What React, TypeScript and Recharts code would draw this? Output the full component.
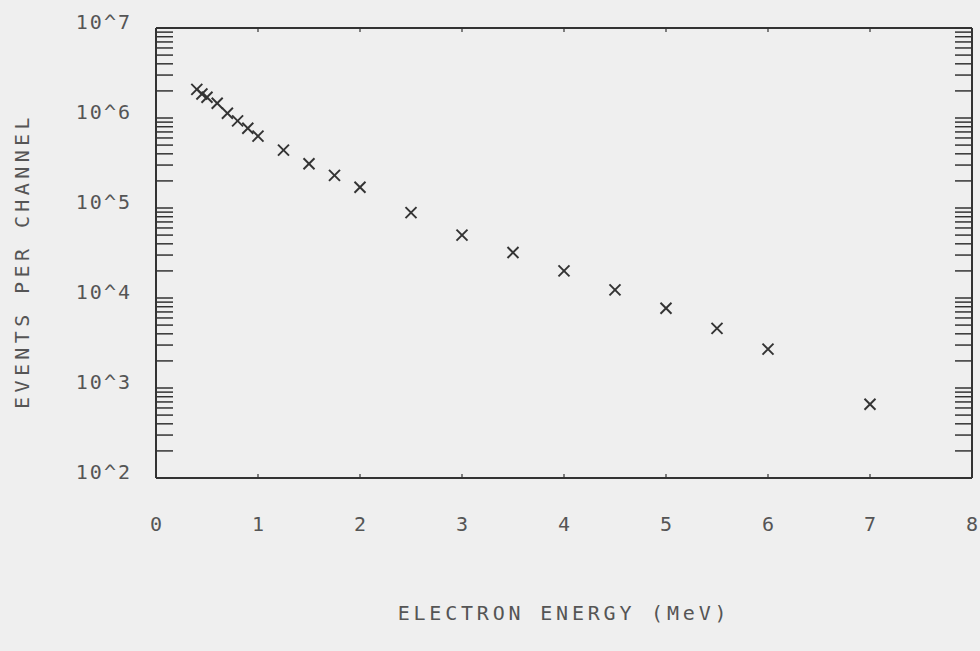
import { ScatterChart, Scatter, XAxis, YAxis } from "recharts";

// electron energy (MeV) and events per channel
const energy = [0.4, 0.45, 0.5, 0.6, 0.7, 0.8, 0.9, 1.0, 1.25, 1.5, 1.75, 2.0, 2.5, 3.0, 3.5, 4.0, 4.5, 5.0, 5.5, 6.0, 7.0];
const events = [
  2.08e6, 1.85e6, 1.7e6, 1.46e6, 1.13e6, 9.3e5, 7.7e5, 6.3e5, 4.4e5, 3.1e5, 2.3e5, 1.7e5,
  8.9e4, 5.0e4, 3.2e4, 2.0e4, 1.23e4, 7.7e3, 4.6e3, 2.7e3, 6.6e2,
];

const xTicks = [0, 1, 2, 3, 4, 5, 6, 7, 8];
const decades = [1e2, 1e3, 1e4, 1e5, 1e6, 1e7];
const decadeLabels = ["10^2", "10^3", "10^4", "10^5", "10^6", "10^7"];

// log minor ticks (2..9 in each decade) plus the decades themselves
const yTicks: number[] = [];
decades.forEach((d, i) => {
  yTicks.push(d);
  if (i < decades.length - 1) {
    for (let m = 2; m <= 9; m++) yTicks.push(d * m);
  }
});

const data = energy.map((e, i) => ({ e, n: events[i] }));

const INK = "#333";
const TEXT = "#555";
const FONT = "'DejaVu Sans Mono', monospace";
const TICK_LEN = 17;

const labelFor = (v: number) => {
  const i = decades.findIndex((d) => Math.abs(d - v) / d < 1e-6);
  return i >= 0 ? decadeLabels[i] : null;
};

const LeftTick = ({ x, y, payload }: any) => {
  const label = labelFor(payload.value);
  return (
    <g>
      <line x1={x} y1={y} x2={x + TICK_LEN} y2={y} stroke={INK} strokeWidth={1.5} />
      {label && (
        <text x={x - 24} y={y + 1} textAnchor="end" fontFamily={FONT} fontSize={20} letterSpacing={2} fill={TEXT}>
          {label}
        </text>
      )}
    </g>
  );
};

const RightTick = ({ x, y }: any) => (
  <line x1={x - TICK_LEN} y1={y} x2={x} y2={y} stroke={INK} strokeWidth={1.5} />
);

const BottomTick = ({ x, y, payload }: any) => (
  <g>
    <line x1={x} y1={y} x2={x} y2={y - 4} stroke={INK} strokeWidth={1.2} />
    <text x={x} y={y + 53} textAnchor="middle" fontFamily={FONT} fontSize={20} fill={TEXT}>
      {payload.value}
    </text>
  </g>
);

const TopTick = ({ x, y }: any) => (
  <line x1={x} y1={y} x2={x} y2={y + 4} stroke={INK} strokeWidth={1.2} />
);

const Cross = ({ cx, cy }: any) => {
  const r = 5.5;
  return (
    <g stroke="#333" strokeWidth={1.9}>
      <line x1={cx - r} y1={cy - r} x2={cx + r} y2={cy + r} />
      <line x1={cx - r} y1={cy + r} x2={cx + r} y2={cy - r} />
    </g>
  );
};

const Nothing = () => <g />;

const XTitle = ({ viewBox }: any) => (
  <text
    x={viewBox.x + viewBox.width / 2}
    y={viewBox.y + 142}
    textAnchor="middle"
    fontFamily={FONT}
    fontSize={20}
    letterSpacing={3.8}
    fill={TEXT}
  >
    ELECTRON ENERGY (MeV)
  </text>
);

const YTitle = ({ viewBox }: any) => {
  const cx = 29;
  const cy = viewBox.y + viewBox.height / 2 + 8;
  return (
    <text
      x={cx}
      y={cy}
      transform={`rotate(-90 ${cx} ${cy})`}
      textAnchor="middle"
      fontFamily={FONT}
      fontSize={20}
      letterSpacing={4.4}
      fill={TEXT}
    >
      EVENTS PER CHANNEL
    </text>
  );
};

export default function App() {
  return (
    <div style={{ position: "fixed", left: 0, top: 0, width: 980, height: 651, background: "#efefef" }}>
      <ScatterChart width={980} height={651} margin={{ top: 26, right: 0, bottom: 0, left: 0 }}>
        <XAxis
          xAxisId="b"
          dataKey="e"
          type="number"
          domain={[0, 8]}
          ticks={xTicks}
          interval={0}
          height={173}
          tickSize={0}
          tickMargin={0}
          tickLine={false}
          tick={<BottomTick />}
          axisLine={{ stroke: INK, strokeWidth: 2 }}
          label={<XTitle />}
        />
        <XAxis
          xAxisId="t"
          dataKey="e"
          orientation="top"
          type="number"
          domain={[0, 8]}
          ticks={xTicks}
          interval={0}
          height={2}
          tickSize={0}
          tickMargin={0}
          tickLine={false}
          tick={<TopTick />}
          axisLine={{ stroke: INK, strokeWidth: 2 }}
        />
        <YAxis
          yAxisId="l"
          dataKey="n"
          type="number"
          scale="log"
          domain={[1e2, 1e7]}
          ticks={yTicks}
          interval={0}
          width={156}
          tickSize={0}
          tickMargin={0}
          tickLine={false}
          tick={<LeftTick />}
          axisLine={{ stroke: INK, strokeWidth: 2 }}
          label={<YTitle />}
        />
        <YAxis
          yAxisId="r"
          dataKey="n"
          orientation="right"
          type="number"
          scale="log"
          domain={[1e2, 1e7]}
          ticks={yTicks}
          interval={0}
          width={8}
          tickSize={0}
          tickMargin={0}
          tickLine={false}
          tick={<RightTick />}
          axisLine={{ stroke: INK, strokeWidth: 2 }}
        />
        {/* invisible twin so the top and right frame axes get drawn */}
        <Scatter data={data} xAxisId="t" yAxisId="r" shape={<Nothing />} isAnimationActive={false} />
        <Scatter data={data} xAxisId="b" yAxisId="l" shape={<Cross />} isAnimationActive={false} />
      </ScatterChart>
    </div>
  );
}
